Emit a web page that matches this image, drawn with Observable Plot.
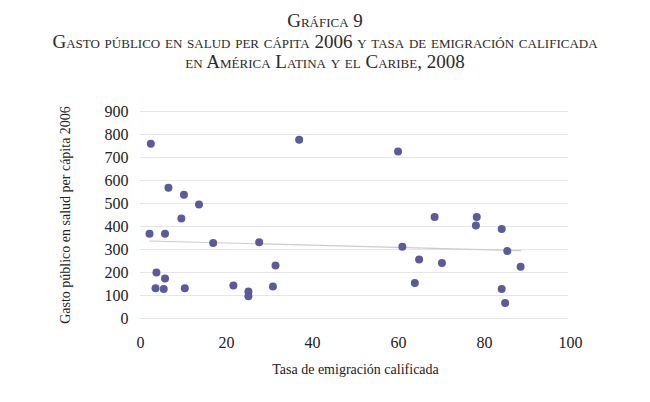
<!DOCTYPE html>
<html>
<head>
<meta charset="utf-8">
<script src="https://cdn.jsdelivr.net/npm/d3@7"></script>
<script src="https://cdn.jsdelivr.net/npm/@observablehq/plot@0.6"></script>
<style>
  body { margin: 0; background: #fff; font-family: "Liberation Serif", "DejaVu Serif", serif; }
  #titles { height: 80px; box-sizing: border-box; padding-top: 11px; text-align: center; color: #2a2a2a; font-variant: small-caps; font-size: 19px; line-height: 20.5px; }
  svg { display: block; }
  svg text { font-family: "Liberation Serif", "DejaVu Serif", serif !important; }
</style>
</head>
<body>
<div id="titles">
  <div>Gráfica 9</div>
  <div>Gasto público en salud per cápita 2006 y tasa de emigración calificada</div>
  <div>en América Latina y el Caribe, 2008</div>
</div>
<div id="chart"></div>
<script>
const emigracion = [2.4, 2.1, 3.7, 3.5, 5.4, 5.7, 5.7, 6.5, 9.5, 10.1, 10.3, 13.6, 16.9, 21.6, 25.1, 25.1, 27.6, 30.8, 31.4, 36.9,
                    59.9, 68.4, 78.2, 78.0, 84.0, 60.9, 85.3, 64.8, 70.1, 88.4, 63.8, 84.0, 84.8];
const gasto = [760, 368, 200, 132, 128, 174, 368, 568, 435, 538, 132, 496, 328, 143, 117, 97, 332, 139, 230, 777,
               726, 441, 441, 404, 389, 312, 293, 257, 241, 225, 154, 128, 67];
const xTicks = [0, 20, 40, 60, 80, 100];
const yTicks = [0, 100, 200, 300, 400, 500, 600, 700, 800, 900];

const data = emigracion.map((x, i) => ({x, y: gasto[i]}));
const serif = "Liberation Serif";

const chart = Plot.plot({
  width: 650,
  height: 322,
  marginTop: 31,
  marginBottom: 84,
  marginLeft: 140,
  marginRight: 80,
  style: { fontFamily: "'Liberation Serif', 'DejaVu Serif', serif", fontSize: "16px", color: "#222", background: "#fff", overflow: "visible" },
  x: { domain: [0, 100], ticks: xTicks, tickSize: 0, tickPadding: 18, label: null },
  y: { domain: [0, 900], ticks: yTicks, tickSize: 0, tickPadding: 12, label: null },
  marks: [
    Plot.gridY(yTicks, { stroke: "#e6e6e6", strokeOpacity: 1, x1: 0, x2: 99.5 }),
    Plot.axisX({ ticks: xTicks, tickSize: 0, tickPadding: 18, fontSize: 16, fontFamily: serif, fill: "#222" }),
    Plot.axisY({ ticks: yTicks, tickSize: 0, tickPadding: 12, fontSize: 16, fontFamily: serif, fill: "#222" }),
    Plot.linearRegressionY(data, { x: "x", y: "y", ci: 0, stroke: "#cccccc", strokeWidth: 1.2 }),
    Plot.dot(data, { x: "x", y: "y", r: 4, fill: "#5b5b9b", stroke: "none" }),
    Plot.text(["Tasa de emigración calificada"], { frameAnchor: "bottom", dy: 55, fontSize: 14, fontFamily: serif, fill: "#222" }),
    Plot.text(["Gasto público en salud per cápita 2006"], { frameAnchor: "left", dx: -75, rotate: -90, textAnchor: "middle", fontSize: 14, fontFamily: serif, fill: "#222" })
  ]
});
document.getElementById("chart").appendChild(chart);
</script>
</body>
</html>
